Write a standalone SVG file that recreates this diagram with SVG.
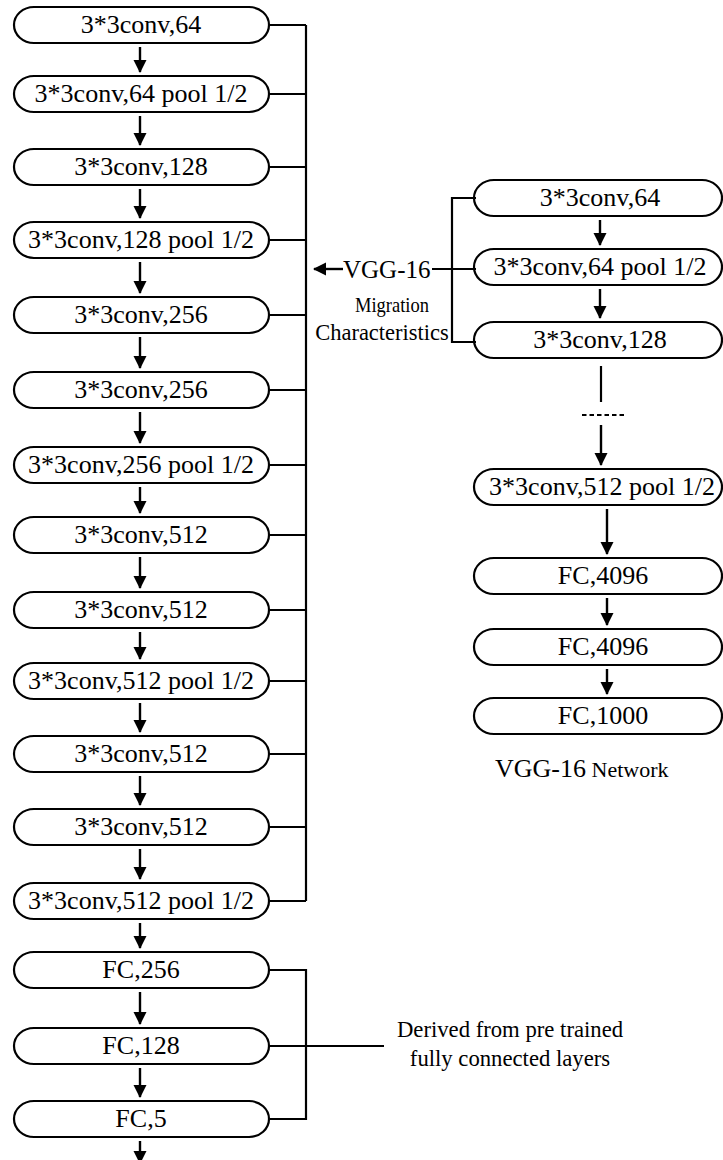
<svg xmlns="http://www.w3.org/2000/svg" width="723" height="1160" viewBox="0 0 723 1160">
  <style>
    .box { fill: #fff; stroke: #000; stroke-width: 2.2; }
    .lbl { font-family: "Liberation Serif", "Times New Roman", serif; font-size: 26px; fill: #000; text-anchor: middle; }
    .note { font-family: "Liberation Serif", "Times New Roman", serif; fill: #000; }
    .wire { fill: none; stroke: #000; stroke-width: 2.2; }
    .flow { fill: none; stroke: #000; stroke-width: 2.4; marker-end: url(#head); }
  </style>
  <defs>
    <marker id="head" markerUnits="userSpaceOnUse" markerWidth="14" markerHeight="14" refX="12" refY="7" orient="auto">
      <path d="M0,0.5 L13,7 L0,13.5 z" fill="#000"/>
    </marker>
  </defs>
  <rect width="723" height="1160" fill="#fff"/>

  <!-- Fine-tuned network (left column) -->
  <g id="left-1"><rect class="box" x="14" y="7" width="255" height="36" rx="20" ry="18"/><text class="lbl" x="141" y="33">3*3conv,64</text></g>
  <g id="left-2"><rect class="box" x="14" y="76" width="255" height="36" rx="20" ry="18"/><text class="lbl" x="141" y="102">3*3conv,64 pool 1/2</text></g>
  <g id="left-3"><rect class="box" x="14" y="149" width="255" height="36" rx="20" ry="18"/><text class="lbl" x="141" y="175">3*3conv,128</text></g>
  <g id="left-4"><rect class="box" x="14" y="222" width="255" height="36" rx="20" ry="18"/><text class="lbl" x="141" y="248">3*3conv,128 pool 1/2</text></g>
  <g id="left-5"><rect class="box" x="14" y="297" width="255" height="36" rx="20" ry="18"/><text class="lbl" x="141" y="323">3*3conv,256</text></g>
  <g id="left-6"><rect class="box" x="14" y="372" width="255" height="36" rx="20" ry="18"/><text class="lbl" x="141" y="398">3*3conv,256</text></g>
  <g id="left-7"><rect class="box" x="14" y="447" width="255" height="36" rx="20" ry="18"/><text class="lbl" x="141" y="473">3*3conv,256 pool 1/2</text></g>
  <g id="left-8"><rect class="box" x="14" y="517" width="255" height="36" rx="20" ry="18"/><text class="lbl" x="141" y="543">3*3conv,512</text></g>
  <g id="left-9"><rect class="box" x="14" y="592" width="255" height="36" rx="20" ry="18"/><text class="lbl" x="141" y="618">3*3conv,512</text></g>
  <g id="left-10"><rect class="box" x="14" y="663" width="255" height="36" rx="20" ry="18"/><text class="lbl" x="141" y="689">3*3conv,512 pool 1/2</text></g>
  <g id="left-11"><rect class="box" x="14" y="736" width="255" height="36" rx="20" ry="18"/><text class="lbl" x="141" y="762">3*3conv,512</text></g>
  <g id="left-12"><rect class="box" x="14" y="809" width="255" height="36" rx="20" ry="18"/><text class="lbl" x="141" y="835">3*3conv,512</text></g>
  <g id="left-13"><rect class="box" x="14" y="883" width="255" height="36" rx="20" ry="18"/><text class="lbl" x="141" y="909">3*3conv,512 pool 1/2</text></g>
  <g id="left-14"><rect class="box" x="14" y="952" width="255" height="36" rx="20" ry="18"/><text class="lbl" x="141" y="978">FC,256</text></g>
  <g id="left-15"><rect class="box" x="14" y="1028" width="255" height="36" rx="20" ry="18"/><text class="lbl" x="141" y="1054">FC,128</text></g>
  <g id="left-16"><rect class="box" x="14" y="1101" width="255" height="36" rx="20" ry="18"/><text class="lbl" x="141" y="1127">FC,5</text></g>

  <!-- VGG-16 reference network (right column) -->
  <g id="right-1"><rect class="box" x="474" y="180" width="248" height="36" rx="20" ry="18"/><text class="lbl" x="600" y="206">3*3conv,64</text></g>
  <g id="right-2"><rect class="box" x="474" y="249" width="248" height="36" rx="20" ry="18"/><text class="lbl" x="600" y="275">3*3conv,64 pool 1/2</text></g>
  <g id="right-3"><rect class="box" x="474" y="322" width="248" height="36" rx="20" ry="18"/><text class="lbl" x="600" y="348">3*3conv,128</text></g>
  <g id="right-4"><rect class="box" x="474" y="469" width="248" height="36" rx="20" ry="18"/><text class="lbl" x="602" y="495">3*3conv,512 pool 1/2</text></g>
  <g id="right-5"><rect class="box" x="474" y="558" width="248" height="36" rx="20" ry="18"/><text class="lbl" x="603" y="584">FC,4096</text></g>
  <g id="right-6"><rect class="box" x="474" y="629" width="248" height="36" rx="20" ry="18"/><text class="lbl" x="603" y="655">FC,4096</text></g>
  <g id="right-7"><rect class="box" x="474" y="698" width="248" height="36" rx="20" ry="18"/><text class="lbl" x="603" y="724">FC,1000</text></g>

  <!-- Annotations -->
  <g id="vgg-label"><text class="note" x="343" y="278" font-size="25">VGG-16</text></g>
  <g id="migration-label">
    <text class="note" x="392" y="312" font-size="22" text-anchor="middle" textLength="74" lengthAdjust="spacingAndGlyphs">Migration</text>
    <text class="note" x="382" y="340" font-size="22.5" text-anchor="middle">Characteristics</text>
  </g>
  <g id="network-caption"><text class="note" x="495" y="777" font-size="26">VGG-16<tspan font-size="22"> Network</tspan></text></g>
  <g id="fc-note">
    <text class="note" x="510" y="1037" font-size="22.7" text-anchor="middle">Derived from pre trained</text>
    <text class="note" x="510" y="1066" font-size="22.7" text-anchor="middle">fully connected layers</text>
  </g>

  <g id="connectors">
    <!-- flow arrows, left column -->
    <path class="flow" d="M140,47 V72"/>
    <path class="flow" d="M140,116 V145"/>
    <path class="flow" d="M140,189 V218"/>
    <path class="flow" d="M140,262 V293"/>
    <path class="flow" d="M140,337 V368"/>
    <path class="flow" d="M140,412 V443"/>
    <path class="flow" d="M140,487 V513"/>
    <path class="flow" d="M140,557 V588"/>
    <path class="flow" d="M140,632 V659"/>
    <path class="flow" d="M140,703 V732"/>
    <path class="flow" d="M140,776 V805"/>
    <path class="flow" d="M140,849 V879"/>
    <path class="flow" d="M140,923 V948"/>
    <path class="flow" d="M140,992 V1024"/>
    <path class="flow" d="M140,1068 V1097"/>
    <path class="flow" d="M140,1141 V1163"/>

    <!-- flow arrows, right column -->
    <path class="flow" d="M600,220 V245"/>
    <path class="flow" d="M600,289 V318"/>
    <path class="wire" d="M601,366 V402"/>
    <path class="wire" d="M582,415 H624" stroke-dasharray="4.5 3"/>
    <path class="flow" d="M601,425 V465"/>
    <path class="flow" d="M607,509 V554"/>
    <path class="flow" d="M607,598 V625"/>
    <path class="flow" d="M607,669 V694"/>

    <!-- convolutional block bracket -->
    <path class="wire" d="M306,25 V901"/>
    <path class="wire" d="M269,25 H306 M269,94 H306 M269,167 H306 M269,240 H306 M269,315 H306 M269,390 H306 M269,465 H306 M269,535 H306 M269,610 H306 M269,681 H306 M269,754 H306 M269,827 H306 M269,901 H306"/>

    <!-- fully connected bracket -->
    <path class="wire" d="M269,970 H306 V1119 H269 M269,1046 H384"/>

    <!-- transfer from VGG-16 -->
    <path class="wire" d="M476,198 H452 V342 H476 M432,269 H476"/>
    <path class="flow" d="M343,269 H314"/>
  </g>
</svg>
